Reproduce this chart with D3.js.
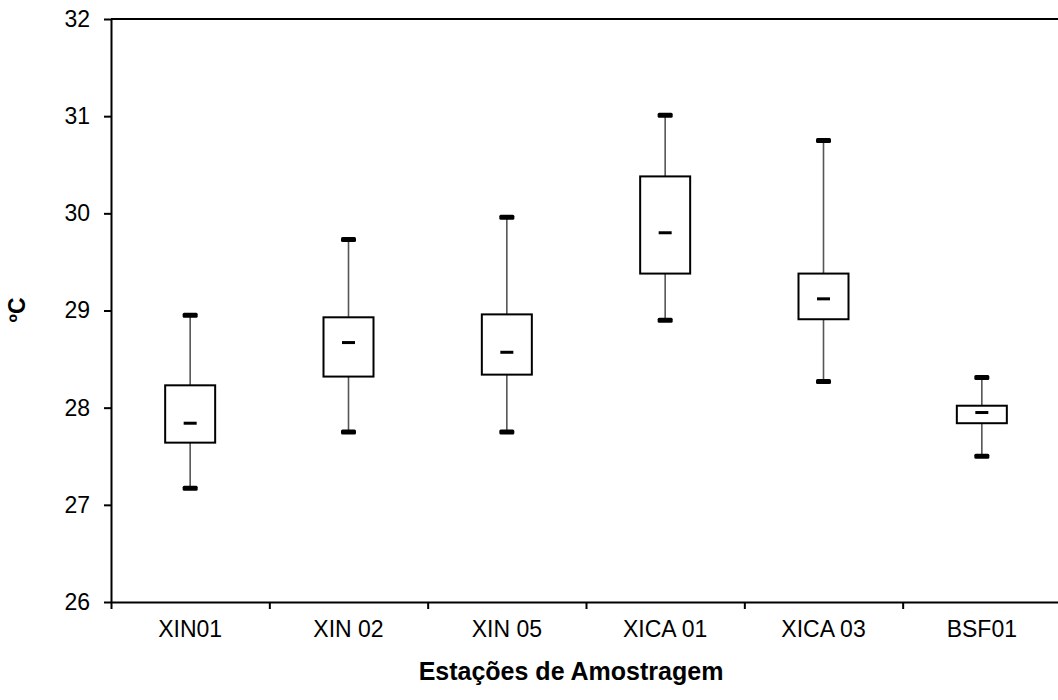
<!DOCTYPE html>
<html>
<head>
<meta charset="utf-8">
<script src="https://cdn.jsdelivr.net/npm/d3@7"></script>
<style>
  body { margin: 0; background: #fff; overflow: hidden; }
  svg { display: block; font-family: "Liberation Sans", Arial, sans-serif; }
</style>
</head>
<body>
<div id="chart"></div>
<script>
// estações e estatísticas (°C)
const estacoes = ["XIN01", "XIN 02", "XIN 05", "XICA 01", "XICA 03", "BSF01"];
const minimo  = [27.17, 27.75, 27.75, 28.90, 28.27, 27.50];
const q1      = [27.64, 28.32, 28.34, 29.38, 28.91, 27.84];
const mediana = [27.84, 28.67, 28.57, 29.80, 29.12, 27.95];
const q3      = [28.23, 28.93, 28.96, 30.38, 29.38, 28.02];
const maximo  = [28.95, 29.73, 29.96, 31.01, 30.75, 28.31];
const yTicks  = [26, 27, 28, 29, 30, 31, 32];

const width = 1058;
const height = 700;
const margin = {top: 19, left: 111};
const innerWidth = 950;
const innerHeight = 583;

const svg = d3.select("#chart")
  .append("svg")
  .attr("width", width)
  .attr("height", height);

const g = svg.append("g")
  .attr("transform", `translate(${margin.left},${margin.top})`);

const x = d3.scaleBand().domain(estacoes).range([0, innerWidth]).padding(0);
const xEdge = d3.scaleLinear().domain([0, estacoes.length]).range([0, innerWidth]);
const y = d3.scaleLinear().domain([26, 32]).range([innerHeight, 0]);

const data = estacoes.map((e, i) => ({
  nome: e, min: minimo[i], q1: q1[i], med: mediana[i], q3: q3[i], max: maximo[i]
}));

// linha superior do quadro
g.append("line")
  .attr("x1", 0).attr("x2", width - margin.left)
  .attr("y1", 0).attr("y2", 0)
  .attr("stroke", "#000").attr("stroke-width", 2);

// eixo Y
const yAxis = g.append("g")
  .call(d3.axisLeft(y).tickValues(yTicks).tickFormat(d3.format("d"))
    .tickSize(7).tickSizeOuter(0).tickPadding(14));
yAxis.select(".domain").attr("stroke-width", 2);
yAxis.selectAll(".tick line").attr("stroke-width", 2);
yAxis.selectAll("text").attr("font-size", 23).attr("fill", "#000")
  .style("font-family", "'Liberation Sans', Arial, sans-serif");

// eixo X: marcas nas bordas das categorias
const xAxis = g.append("g")
  .attr("transform", `translate(0,${innerHeight})`)
  .call(d3.axisBottom(xEdge).tickValues(d3.range(estacoes.length)).tickSize(7).tickSizeOuter(0));
xAxis.select(".domain").attr("stroke-width", 2);
xAxis.selectAll(".tick line").attr("stroke-width", 2);
xAxis.selectAll(".tick text").remove();

// rótulos das estações
const xLabels = g.append("g")
  .attr("transform", `translate(0,${innerHeight})`)
  .call(d3.axisBottom(x).tickSize(0).tickPadding(19));
xLabels.select(".domain").remove();
xLabels.selectAll("text").attr("font-size", 23).attr("fill", "#000")
  .style("font-family", "'Liberation Sans', Arial, sans-serif");

// caixas
const boxW = 50;
const capW = 15;
const medW = 13;

const box = g.selectAll(".box")
  .data(data)
  .enter()
  .append("g")
  .attr("class", "box")
  .attr("transform", d => `translate(${x(d.nome) + x.bandwidth() / 2},0)`);

box.append("line")
  .attr("x1", 0).attr("x2", 0)
  .attr("y1", d => y(d.max)).attr("y2", d => y(d.q3))
  .attr("stroke", "#555").attr("stroke-width", 1.6);

box.append("line")
  .attr("x1", 0).attr("x2", 0)
  .attr("y1", d => y(d.q1)).attr("y2", d => y(d.min))
  .attr("stroke", "#555").attr("stroke-width", 1.6);

box.append("rect")
  .attr("x", -boxW / 2)
  .attr("width", boxW)
  .attr("y", d => y(d.q3))
  .attr("height", d => y(d.q1) - y(d.q3))
  .attr("fill", "#fff")
  .attr("stroke", "#000")
  .attr("stroke-width", 2);

box.append("rect")
  .attr("x", -medW / 2).attr("width", medW)
  .attr("y", d => y(d.med) - 1.5).attr("height", 3)
  .attr("fill", "#000");

box.selectAll(".cap")
  .data(d => [d.max, d.min])
  .enter()
  .append("rect")
  .attr("class", "cap")
  .attr("x", -capW / 2).attr("width", capW)
  .attr("y", v => y(v) - 2.5).attr("height", 5)
  .attr("rx", 1.5)
  .attr("fill", "#000");

// títulos dos eixos
svg.append("text")
  .attr("x", 571)
  .attr("y", 680)
  .attr("text-anchor", "middle")
  .attr("font-size", 25)
  .attr("font-weight", "bold")
  .text("Estações de Amostragem");

svg.append("text")
  .attr("transform", "translate(25,310) rotate(-90)")
  .attr("text-anchor", "middle")
  .attr("font-size", 23)
  .attr("font-weight", "bold")
  .text("ºC");
</script>
</body>
</html>
